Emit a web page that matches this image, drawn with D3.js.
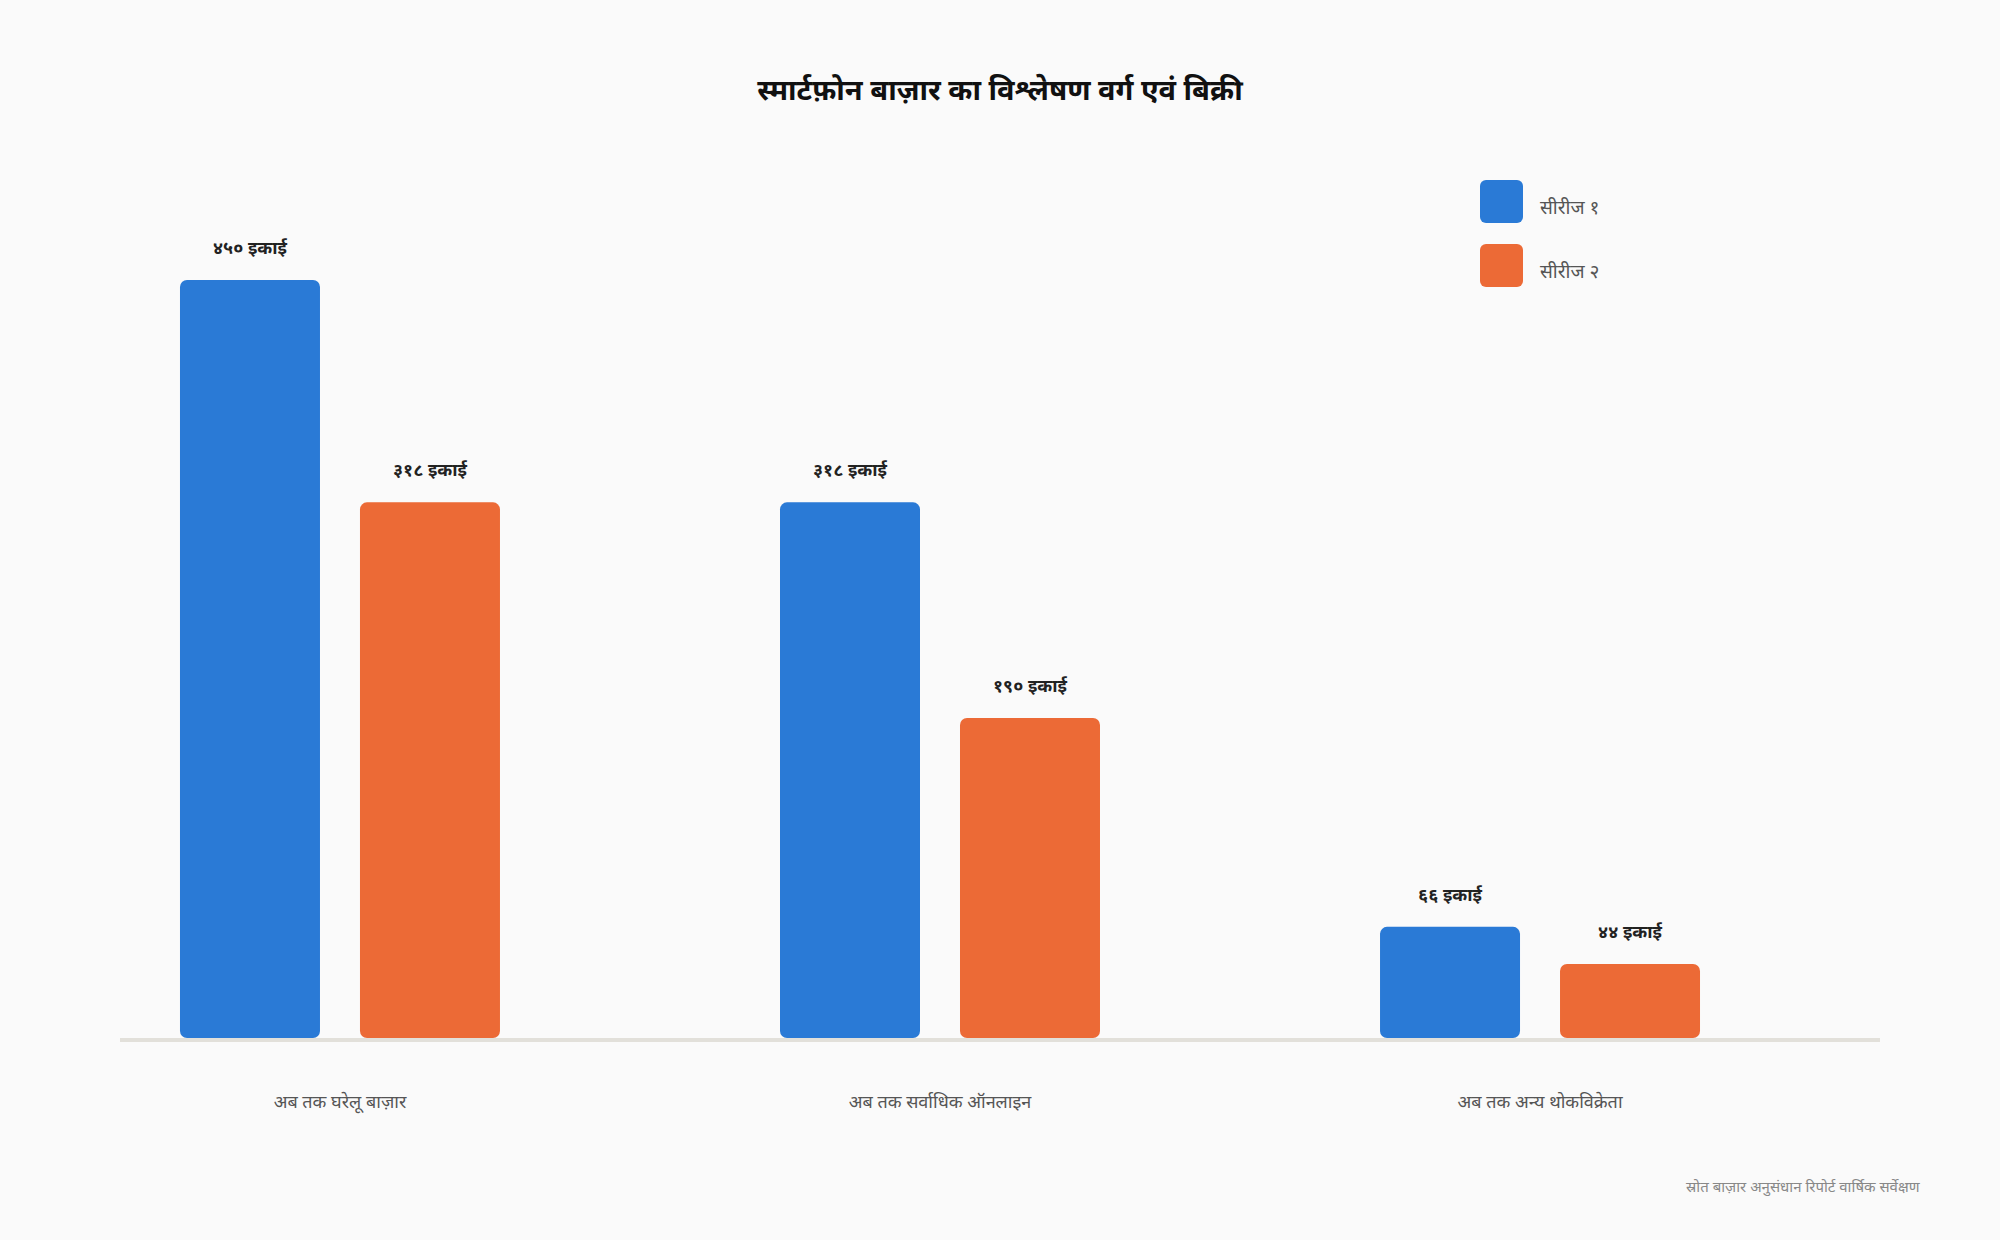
<!DOCTYPE html>
<html>
<head>
<meta charset="utf-8">
<script src="https://cdn.jsdelivr.net/npm/d3@7/dist/d3.min.js"></script>
<style>
  html, body { margin: 0; padding: 0; background: #fafafa; }
  svg { display: block; }
</style>
</head>
<body>
<svg id="chart" width="2000" height="1240"></svg>
<script>
// ---- data ----
const titleText = "स्मार्ट\u095Eोन बा\u095Bार का विश्लेषण वर्ग एवं बिक्री";
const categories = [
  "अब तक घरेलू बा\u095Bार",
  "अब तक सर्वाधिक ऑनलाइन",
  "अब तक अन्य थोकविक्रेता"
];
const seriesNames = ["सीरीज १", "सीरीज २"];
const series1Values = [450, 318, 66];
const series2Values = [318, 190, 44];
const unitLabel = "इकाई";
const sourceNote = "स्रोत बा\u095Bार अनुसंधान रिपोर्ट वार्षिक सर्वेक्षण";
const colors = ["#2a7ad6", "#ec6a36"];

const devDigits = "०१२३४५६७८९";
const toDeva = n => String(n).replace(/[0-9]/g, d => devDigits[+d]);

const svg = d3.select("#chart");
const baseY = 1038;
const FONT = "Noto Sans, DejaVu Sans, sans-serif";

const x0 = d3.scaleBand().domain(categories).range([40, 1840])
  .paddingInner(0.4667).paddingOuter(0.2333);
const x1 = d3.scaleBand().domain([0, 1]).range([0, x0.bandwidth()])
  .paddingInner(0.2222).paddingOuter(0);
const y = d3.scaleLinear().domain([0, 500]).range([baseY, baseY - 758 * 500 / 450]);

const data = categories.map((c, i) => ({
  cat: c,
  vals: [series1Values[i], series2Values[i]]
}));

// title
svg.append("text")
  .attr("x", 1000).attr("y", 100)
  .attr("text-anchor", "middle")
  .attr("font-family", FONT)
  .attr("font-size", 29).attr("font-weight", "bold")
  .attr("fill", "#111")
  .text(titleText);

// bars
const groups = svg.append("g").selectAll("g").data(data).join("g")
  .attr("transform", d => `translate(${x0(d.cat)},0)`);

groups.selectAll("rect").data(d => d.vals.map((v, j) => ({ v, j }))).join("rect")
  .attr("x", d => x1(d.j))
  .attr("y", d => y(d.v))
  .attr("width", x1.bandwidth())
  .attr("height", d => baseY - y(d.v))
  .attr("rx", 7)
  .attr("fill", d => colors[d.j]);

groups.selectAll("text.val").data(d => d.vals.map((v, j) => ({ v, j }))).join("text")
  .attr("class", "val")
  .attr("x", d => x1(d.j) + x1.bandwidth() / 2)
  .attr("y", d => y(d.v) - 26)
  .attr("text-anchor", "middle")
  .attr("font-family", FONT)
  .attr("font-size", 18).attr("font-weight", "bold")
  .attr("fill", "#222")
  .text(d => toDeva(d.v) + " " + unitLabel);

// baseline
svg.append("line")
  .attr("x1", 120).attr("x2", 1880)
  .attr("y1", baseY + 2).attr("y2", baseY + 2)
  .attr("stroke", "#e2e0da").attr("stroke-width", 4);

// category labels
svg.append("g").selectAll("text").data(categories).join("text")
  .attr("x", d => x0(d) + x0.bandwidth() / 2)
  .attr("y", 1108)
  .attr("text-anchor", "middle")
  .attr("font-family", FONT)
  .attr("font-size", 18)
  .attr("fill", "#555")
  .text(d => d);

// legend
const leg = svg.append("g").selectAll("g").data(seriesNames).join("g")
  .attr("transform", (d, i) => `translate(1480,${180 + i * 64})`);
leg.append("rect").attr("width", 43).attr("height", 43).attr("rx", 6)
  .attr("fill", (d, i) => colors[i]);
leg.append("text").attr("x", 60).attr("y", 34)
  .attr("font-family", FONT)
  .attr("font-size", 19).attr("fill", "#555")
  .text(d => d);

// source note
svg.append("text")
  .attr("x", 1686).attr("y", 1192)
  .attr("font-family", FONT)
  .attr("font-size", 15).attr("fill", "#888")
  .text(sourceNote);
</script>
</body>
</html>
